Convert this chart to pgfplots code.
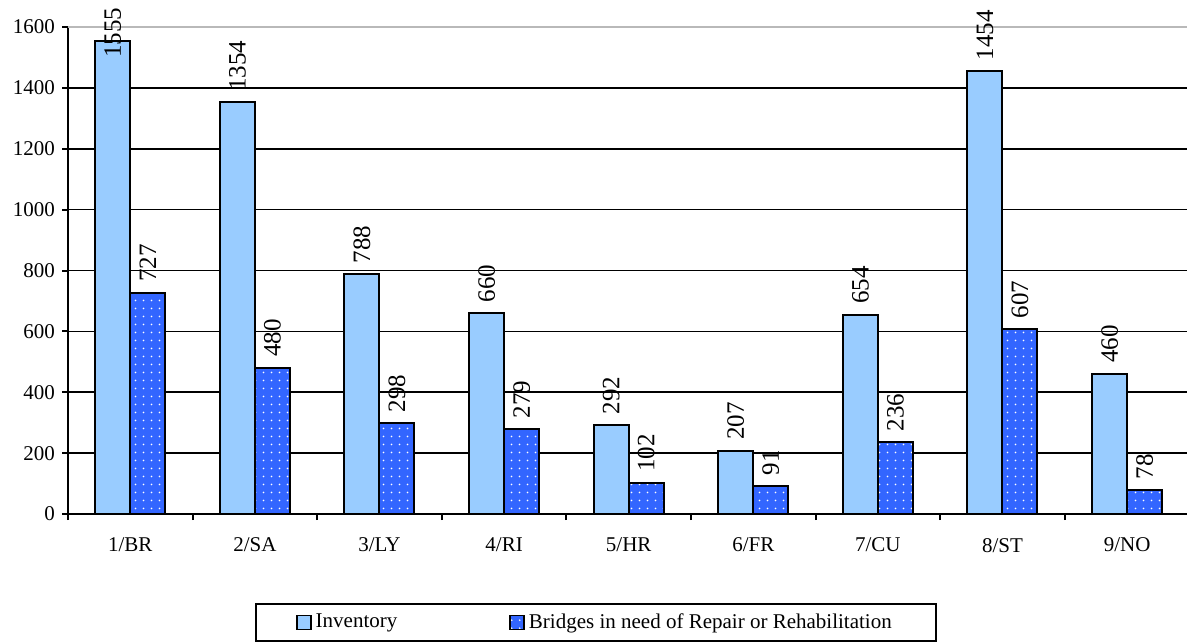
\documentclass[border=0pt]{standalone}
\usepackage{fontspec}
\setmainfont{Liberation Serif}
\usepackage{pgfplots}
\pgfplotsset{compat=1.18}
\usepackage{pgfplotstable}
\usetikzlibrary{patterns.meta}
\definecolor{inv}{HTML}{99CCFF}
\definecolor{need}{HTML}{3366FF}
\pgfplotstableread{
x inv need
0 1555 727
1 1354 480
2 788 298
3 660 279
4 292 102
5 207 91
6 654 236
7 1454 607
8 460 78
}\data
\begin{document}
\begin{tikzpicture}
\begin{axis}[name=ax, scale only axis, width=560.7pt, height=243.5pt,
  ybar=0pt, bar width=17.5pt,
  xmin=-0.5, xmax=8.5, ymin=0, ymax=1600,
  axis x line*=bottom, axis y line*=left,
  axis line style={black, line width=1pt},
  tick align=outside, major tick length=3pt,
  tick style={black, line width=1pt},
  xtick={-0.5,0.5,...,8.5}, xticklabels={},
  extra x ticks={0,1,2,3,4,5,6,7,8},
  extra x tick labels={1/BR,2/SA,3/LY,4/RI,5/HR,6/FR,7/CU,8/ST,9/NO},
  extra x tick style={grid=none, major tick length=0pt, xticklabel style={yshift=-8.5pt}},
  ytick={0,200,...,1400},
  extra y ticks={1600},
  extra y tick style={grid=major, major grid style={gray!55, line width=1pt}},
  ymajorgrids, major grid style={black, line width=0.8pt},
  tick label style={font=\fontsize{10.5}{12}\selectfont},
  /pgf/number format/assume math mode=true,
  /pgf/number format/1000 sep={},
  nodes near coords={\rmfamily\pgfmathprintnumber{\pgfplotspointmeta}},
  every node near coord/.append style={font=\fontsize{12.5}{14}\selectfont\rmfamily, text=black, rotate=90, anchor=west, inner xsep=5pt, inner ysep=0pt},
  legend columns=2, legend cell align=left,
  legend image code/.code={\draw[#1, line width=0.8pt] (0pt,-3.5pt) rectangle (7pt,3.5pt);},
  legend style={at={(0.4708,-0.2228)}, anchor=center, draw=black, line width=1pt,
    inner xsep=20pt, inner ysep=3pt, font=\fontsize{10.5}{12}\selectfont,
    /tikz/every even column/.append style={column sep=54pt}},
]
\addplot[fill=inv, draw=black, line width=1pt,
  nodes near coords={\pgfmathsetmacro\lsh{\pgfplotspointmetatransformed>970 ? -14 : 0}\hspace*{\lsh pt}\rmfamily\pgfmathprintnumber{\pgfplotspointmeta}}] table[x=x, y=inv]{\data};
\addlegendentry{Inventory}
\addplot[fill=need, draw=black, line width=1pt,
  postaction={pattern={Dots[distance=4pt, radius=0.5pt]}, pattern color=white}] table[x=x, y=need]{\data};
\addlegendentry{Bridges in need of Repair or Rehabilitation}
\end{axis}
\pgfresetboundingbox
\path[use as bounding box] ([shift={(-34pt,-64.5pt)}]ax.south west) rectangle ([shift={(559.5pt,257pt)}]ax.south west);
\end{tikzpicture}
\end{document}
